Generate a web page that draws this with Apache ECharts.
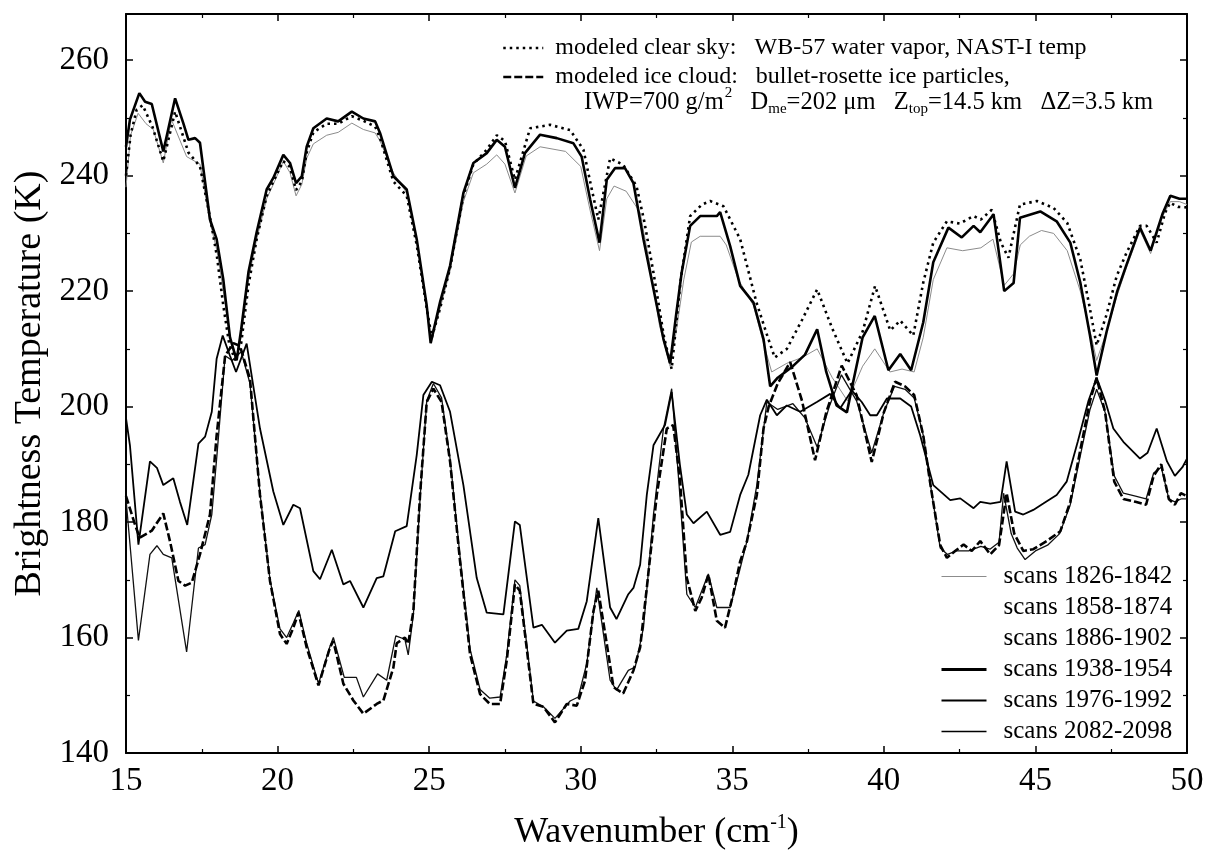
<!DOCTYPE html>
<html><head><meta charset="utf-8">
<script src="https://cdn.jsdelivr.net/npm/echarts@6/dist/echarts.min.js"></script>
<style>html,body{margin:0;padding:0;background:#fff}#c{width:1209px;height:856px}</style>
</head><body><div id="c"></div>
<script>
// ---- data: [wavenumber (cm^-1), brightness temperature (K)] ----
const clearSky = [[15.0,240],[15.15,247],[15.35,251.4],[15.55,252.2],[15.87,248.5],[16.23,242.5],[16.62,251.1],[17.06,244],[17.44,241.6],[17.8,232],[18.0,226],[18.21,217.5],[18.4,211],[18.6,208],[18.8,211],[19.04,221],[19.31,229],[19.64,236.5],[19.86,239],[20.19,242.5],[20.41,241.5],[20.61,237.5],[20.8,239],[20.96,244],[21.18,247.5],[21.62,249],[22.0,249],[22.45,250.3],[22.83,249.5],[23.22,248.5],[23.38,246.5],[23.82,239],[24.26,236.5],[24.59,228],[24.92,217],[25.09,212],[25.36,217],[25.69,224],[26.13,236.5],[26.46,242],[26.9,244.5],[27.23,247],[27.5,246],[27.83,239.3],[28.33,248.2],[28.99,248.8],[29.65,247.9],[30.09,244.5],[30.35,238],[30.58,232.4],[30.97,243],[31.4,241.9],[31.84,238.2],[32.1,232],[32.4,223.2],[32.75,212],[33.0,206.5],[33.3,222],[33.61,233],[34.0,235],[34.27,235.6],[34.71,234.7],[35.26,229],[35.8,218],[36.14,212.5],[36.4,208.5],[36.8,210],[37.3,215],[37.8,220.3],[38.3,213.5],[38.8,207.5],[39.3,213],[39.71,220.9],[40.21,213.2],[40.54,214.9],[40.97,212.3],[41.3,221.5],[41.63,228.4],[42.08,232.1],[42.5,231.7],[42.96,233],[43.2,232.4],[43.56,234.1],[43.86,228.4],[44.11,225.8],[44.49,235],[45.05,235.6],[45.6,234.4],[46.05,231.8],[46.48,225.5],[46.8,216.9],[47.02,210.6],[47.35,216],[47.68,222.6],[48.01,226.7],[48.45,231.3],[48.67,231.3],[49.0,228.4],[49.28,233.6],[49.44,235.3],[49.7,234.6],[50,234.5]];

const iceCloud = [[15.0,184.5],[15.3,179.5],[15.45,177.3],[15.85,178.5],[16.23,181.5],[16.45,176.7],[16.73,169.8],[16.95,169],[17.17,169.5],[17.44,174.4],[17.77,181.3],[17.99,195],[18.27,208.8],[18.54,211],[18.76,210.5],[19.09,204.8],[19.42,184.7],[19.75,169.8],[20.08,160.6],[20.3,158.9],[20.52,161.7],[20.69,164.3],[20.96,158.3],[21.35,151.7],[21.73,158.3],[21.84,159.4],[22.17,152],[22.5,149.1],[22.83,146.8],[23.27,148.5],[23.49,149.1],[23.82,154.8],[23.93,159],[24.2,160],[24.31,158.9],[24.48,164.6],[24.7,184.7],[24.92,200.8],[25.14,203.1],[25.41,200.8],[25.69,190.5],[26.02,173.2],[26.35,157.1],[26.68,150.2],[27.0,148.5],[27.34,148.5],[27.56,156],[27.83,169.2],[27.99,168.1],[28.44,148.5],[28.77,148],[29.15,145.3],[29.54,148.5],[29.87,148.2],[30.14,152.5],[30.42,164.6],[30.58,168.1],[30.86,158.9],[31.08,151.4],[31.4,150.3],[31.74,154.3],[31.96,158.3],[32.18,168.6],[32.51,184.7],[32.84,196.2],[33.05,196.8],[33.27,187.6],[33.5,170.3],[33.78,164.6],[33.99,166.9],[34.21,170.9],[34.49,162.9],[34.76,161.7],[35.03,167.5],[35.26,173.2],[35.48,176.6],[35.81,184.7],[36.03,196.2],[36.2,200],[36.5,204],[36.91,207.7],[37.3,201],[37.73,190.7],[38.1,199],[38.61,207.1],[39.1,202],[39.6,190.4],[40.0,199],[40.37,204.3],[40.7,203.5],[41.0,202],[41.3,195],[41.55,186],[41.86,176],[42.08,173.8],[42.35,175],[42.63,176.1],[42.9,175],[43.18,176.7],[43.51,174.4],[43.8,176],[44.05,185],[44.3,178],[44.6,175],[44.93,175.3],[45.37,176.7],[45.82,178.4],[46.15,183.5],[46.5,193],[46.8,201],[47.02,205],[47.3,199],[47.6,187],[47.9,184],[48.3,183.5],[48.65,183],[48.9,188],[49.15,190],[49.4,184],[49.6,183],[49.8,185],[50,184.5]];

const scans1826 = [[15.0,238],[15.15,247],[15.4,250.8],[15.66,249],[15.9,248],[16.23,242.2],[16.5,249.7],[17.0,243.3],[17.2,242.7],[17.44,242],[17.77,232],[18.0,227],[18.21,220],[18.43,212],[18.65,208.5],[18.8,212],[19.04,222],[19.31,229],[19.64,236],[19.86,238.5],[20.19,242.5],[20.41,240.5],[20.61,236.5],[20.8,238.5],[20.96,243],[21.18,245.5],[21.62,247],[22.0,247.5],[22.45,249.1],[22.83,248],[23.22,247.4],[23.38,246],[23.82,240.5],[24.26,237],[24.59,229],[24.92,217],[25.05,211],[25.36,217],[25.69,223.5],[26.13,235.5],[26.46,240.5],[26.9,242],[27.23,243.6],[27.5,242],[27.83,237],[28.2,243.4],[28.66,245],[29.5,244.2],[30.0,241.6],[30.31,234],[30.62,227],[30.86,236],[31.1,238.2],[31.5,237.3],[31.96,233.6],[32.3,224],[32.6,214],[32.95,207],[33.15,213],[33.4,222],[33.65,228.5],[33.94,229.5],[34.6,229.5],[34.8,228],[35.2,222],[35.7,217.5],[36.03,211],[36.3,206],[36.8,207.5],[37.3,208.5],[37.8,210],[38.3,205],[38.8,201],[39.3,207],[39.7,210],[40.2,206],[40.6,206.5],[41.0,206],[41.3,212],[41.63,222],[42.08,227.5],[42.6,227],[43.2,227.5],[43.6,229],[43.97,221],[44.28,223],[44.5,228],[44.8,229.5],[45.2,230.5],[45.6,230],[46.05,227],[46.48,220],[46.85,212],[47.02,208],[47.35,213],[47.68,219],[48.0,224],[48.45,230.5],[48.8,226.5],[49.2,233],[49.45,235.5],[49.75,235.5],[50,235]];

const scans1858 = [];   // not visible in the figure
const scans1886 = [];   // not visible in the figure

const scans1938 = [[15.0,245],[15.13,249.7],[15.44,254.3],[15.63,252.8],[15.85,252.4],[16.23,244.2],[16.62,253.4],[16.89,249.1],[17.06,246.2],[17.28,246.5],[17.44,245.7],[17.77,232.4],[17.99,229],[18.21,222],[18.43,212],[18.65,208],[18.8,213.4],[19.04,223.3],[19.31,230.2],[19.64,237.6],[19.86,239.6],[20.19,243.6],[20.41,242.2],[20.61,238.7],[20.8,239.9],[20.96,245],[21.18,248.2],[21.62,249.9],[22.0,249.4],[22.45,251.1],[22.83,249.9],[23.22,249.4],[23.38,247.4],[23.82,239.9],[24.26,237.6],[24.59,229],[24.92,217.5],[25.05,211],[25.36,218.1],[25.69,224.4],[26.13,237],[26.46,242.2],[26.9,243.9],[27.23,246.2],[27.5,245],[27.83,237.9],[28.16,243.9],[28.66,247.1],[29.21,246.5],[29.76,245.6],[30.03,243.3],[30.31,235.9],[30.62,228.4],[30.86,239.3],[31.13,241.3],[31.46,241.3],[31.74,238.7],[32.07,229],[32.51,217.5],[32.73,211.7],[32.95,207.5],[33.15,216],[33.33,223.2],[33.61,231.3],[33.94,233],[34.49,233],[34.6,233.7],[34.93,227.8],[35.26,220.9],[35.7,218],[36.03,211.7],[36.25,203.5],[36.5,205],[37.0,207],[37.4,209],[37.8,213.4],[38.1,206],[38.44,200.2],[38.78,199],[38.94,203.1],[39.3,212],[39.7,215.7],[40.15,206.3],[40.54,209.1],[40.9,206.3],[41.3,214.6],[41.63,225],[42.13,231],[42.57,229.3],[42.96,231.3],[43.18,230.2],[43.62,233.3],[43.97,220],[44.28,221.4],[44.49,232.7],[45.16,233.8],[45.7,232.1],[46.15,228.4],[46.48,221.5],[46.8,212.3],[47.02,205.4],[47.35,213],[47.7,220],[48.0,224.5],[48.45,231],[48.8,227],[49.2,233.5],[49.45,236.5],[49.75,236],[50,236]];

const scans1976 = [[15.0,198],[15.13,193.3],[15.41,176.1],[15.79,190.5],[16.02,189.4],[16.23,186.4],[16.56,187.6],[16.78,183.5],[17.02,179.5],[17.39,193.6],[17.61,194.8],[17.83,199.1],[17.99,208.3],[18.19,212.3],[18.43,208.8],[18.63,206],[18.98,210.9],[19.42,196.2],[19.86,185.3],[20.19,179.5],[20.52,183],[20.74,182.4],[21.18,171.5],[21.4,170.1],[21.79,175.2],[22.17,169.2],[22.39,169.8],[22.83,165.2],[23.27,170.3],[23.49,170.6],[23.88,178.4],[24.26,179.3],[24.59,191.6],[24.81,202],[25.09,204.3],[25.36,203.7],[25.69,199.1],[26.13,186.4],[26.57,170.3],[26.9,164.3],[27.45,164],[27.83,180.1],[27.99,179.5],[28.44,161.7],[28.72,162.2],[29.15,159.1],[29.54,161.2],[29.92,161.5],[30.2,166.3],[30.58,180.7],[30.97,165.2],[31.18,163.2],[31.57,167.5],[31.74,168.6],[31.96,172.6],[32.18,184.7],[32.4,193.3],[32.78,196.8],[33.0,202.5],[33.27,190],[33.5,181.3],[33.72,179.8],[34.16,181.8],[34.6,177.8],[34.93,178.3],[35.26,184.7],[35.53,188.2],[35.92,198.5],[36.14,201.2],[36.47,198.5],[36.8,200.2],[37.24,199.1],[37.79,200.8],[38.23,202.2],[38.56,199.7],[38.94,202.8],[39.27,200.8],[39.55,198.5],[39.77,198.5],[40.1,201.4],[40.54,201.4],[40.9,200],[41.2,195],[41.63,186.4],[42.19,183.8],[42.52,184.1],[42.96,182.4],[43.18,183.5],[43.51,183.2],[43.85,183.5],[44.05,190.5],[44.33,181.8],[44.6,181.3],[44.93,182.1],[45.26,183.2],[45.7,184.7],[46.03,187],[46.4,194],[46.75,201],[47.02,205],[47.3,201],[47.57,196.2],[47.9,193.9],[48.45,191],[48.7,192],[49.0,196.2],[49.34,190.5],[49.6,188],[49.85,189.5],[50,191]];

const scans2082 = [[15.0,184],[15.41,159.5],[15.79,174.4],[16.02,175.9],[16.23,174.4],[16.51,173.8],[17.0,157.5],[17.39,175.5],[17.61,176.1],[17.83,181.3],[18.0,191.6],[18.27,208.8],[18.5,208],[18.8,209.5],[19.09,204],[19.42,185],[19.75,170],[20.08,161.5],[20.3,160],[20.52,162.5],[20.7,164.7],[20.96,159],[21.35,152],[21.73,158.5],[21.84,160],[22.2,153.1],[22.6,153.1],[22.83,149.7],[23.3,153.7],[23.6,152.6],[23.9,160.3],[24.2,159.7],[24.31,157],[24.48,164],[24.7,184],[24.92,201],[25.14,204],[25.41,201.5],[25.69,191],[26.02,174],[26.35,158],[26.68,151],[27.0,149.5],[27.34,149.7],[27.56,157],[27.83,170],[27.99,169],[28.44,149],[28.77,148],[29.15,146],[29.65,149],[29.92,149.7],[30.2,155.5],[30.53,168.6],[30.97,152.6],[31.18,150.9],[31.57,154.3],[31.8,154.9],[32.07,161.7],[32.4,181.3],[32.73,196.2],[33.0,203.1],[33.27,184.7],[33.5,167.5],[33.78,165.2],[34.21,171],[34.49,165.2],[34.93,165.2],[35.26,172],[35.48,176.6],[35.81,186.4],[36.14,200.8],[36.5,199.5],[37.0,200.5],[37.4,198],[37.8,193],[38.2,200],[38.6,205.5],[39.1,201],[39.6,192],[40.0,199],[40.35,203.5],[40.7,203],[41.0,201.5],[41.3,195],[41.55,186],[41.86,175.5],[42.1,174.4],[42.4,175],[42.8,175],[43.2,175.8],[43.5,175.3],[43.8,176.5],[43.95,185],[44.2,178],[44.4,175.5],[44.66,173.5],[45.0,175],[45.4,176],[45.8,178],[46.15,183],[46.5,192],[46.8,199.5],[47.02,203],[47.3,199],[47.6,188],[47.9,185],[48.3,184.5],[48.65,184],[48.9,188.5],[49.15,189.5],[49.4,184],[49.6,183.5],[49.8,184],[50,184]];

const modelNames = ['modeled clear sky', 'modeled ice cloud'];
const modelLabels = {
  'modeled clear sky': 'modeled clear sky:   WB-57 water vapor, NAST-I temp',
  'modeled ice cloud': 'modeled ice cloud:   bullet-rosette ice particles,'
};
const scanNames = ['scans 1826-1842','scans 1858-1874','scans 1886-1902','scans 1938-1954','scans 1976-1992','scans 2082-2098'];
const xTicks = {min: 15, max: 50, interval: 5};
const yTicks = {min: 140, max: 268, interval: 20};

// ---- chart ----
const FONT = '"Liberation Serif","Times New Roman",Times,serif';
const chart = echarts.init(document.getElementById('c'), null, {renderer: 'canvas'});

function axisBase(pos, showLabel) {
  return {
    type: 'value', position: pos,
    axisLine: {show: true, onZero: false, lineStyle: {color: '#000', width: 2}},
    axisTick: {show: true, inside: true, length: 7, lineStyle: {color: '#000', width: 1.5}},
    minorTick: {show: true, splitNumber: 2, length: 4, lineStyle: {color: '#000', width: 1.2}},
    splitLine: {show: false},
    axisLabel: {show: showLabel, color: '#000', fontFamily: FONT, fontSize: 33},
  };
}

const xBottom = Object.assign(axisBase('bottom', true), xTicks, {
  name: '{a|Wavenumber (cm}{s|-1}{a|)}', nameLocation: 'middle', nameGap: 48,
  nameTextStyle: {rich: {a: {fontFamily: FONT, fontSize: 36, color: '#000', padding: [14, 0, 0, 0]},
                         s: {fontFamily: FONT, fontSize: 20, color: '#000', padding: [0, 0, 6, 0]}}}
});
xBottom.axisLabel.margin = 12;
const xTop = Object.assign(axisBase('top', false), xTicks);
const yLeft = Object.assign(axisBase('left', true), yTicks, {
  name: 'Brightness Temperature (K)', nameLocation: 'middle', nameGap: 74,
  nameTextStyle: {fontFamily: FONT, fontSize: 38, color: '#000'}
});
yLeft.axisLabel.margin = 17;
yLeft.axisLabel.formatter = v => (v % 20 === 0 ? String(v) : '');
const yRight = Object.assign(axisBase('right', false), yTicks);

function lineSeries(name, data, color, width, type, z) {
  return {
    name, type: 'line', data, xAxisIndex: 0, yAxisIndex: 0,
    symbol: 'none', showSymbol: false, smooth: false, z: z,
    lineStyle: {color, width, type},
    itemStyle: {color}
  };
}

const scanLegendStyle = {
  'scans 1826-1842': {color: '#8c8c8c', width: 1},
  'scans 1858-1874': {color: '#ffffff', width: 1},
  'scans 1886-1902': {color: '#ffffff', width: 1},
  'scans 1938-1954': {color: '#000', width: 3},
  'scans 1976-1992': {color: '#000', width: 2},
  'scans 2082-2098': {color: '#000', width: 1.7}
};

const option = {
  animation: false,
  backgroundColor: '#fff',
  grid: {left: 126, right: 22, top: 14, bottom: 100, containLabel: false},
  xAxis: [xBottom, xTop],
  yAxis: [yLeft, yRight],
  legend: [
    {
      data: modelNames.map(n => ({name: n, lineStyle: {width: 2.5}})),
      orient: 'vertical', left: 497, top: 31,
      itemWidth: 40, itemHeight: 10, itemGap: 5, selectedMode: false,
      itemStyle: {opacity: 0},
      formatter: n => modelLabels[n],
      textStyle: {fontFamily: FONT, fontSize: 24, color: '#000', lineHeight: 24, padding: [0, 0, 0, 7]}
    },
    {
      data: scanNames.map(n => ({name: n, lineStyle: scanLegendStyle[n]})),
      orient: 'vertical', left: 935, top: 559,
      itemWidth: 45, itemHeight: 10, itemGap: 6, selectedMode: false,
      itemStyle: {opacity: 0},
      textStyle: {fontFamily: FONT, fontSize: 25, color: '#000', lineHeight: 25, padding: [0, 0, 0, 12]}
    }
  ],
  graphic: [{
    type: 'text', left: 584, top: 86, silent: true,
    style: {
      text: '{n|IWP=700 g/m}{sup|2}{n|   D}{sub|me}{n|=202 μm   Z}{sub|top}{n|=14.5 km   ΔZ=3.5 km}',
      fill: '#000', fontFamily: FONT, fontSize: 24,
      rich: {
        n: {fontFamily: FONT, fontSize: 24.5, fill: '#000', lineHeight: 30},
        sup: {fontFamily: FONT, fontSize: 15, fill: '#000', padding: [0, 0, 18, 1]},
        sub: {fontFamily: FONT, fontSize: 15, fill: '#000', padding: [14, 0, 0, 0]}
      }
    }
  }],
  series: [
    lineSeries('scans 1858-1874', scans1858, '#ffffff', 1, 'solid', 1),
    lineSeries('scans 1886-1902', scans1886, '#ffffff', 1, 'solid', 1),
    lineSeries('scans 1826-1842', scans1826, '#8c8c8c', 1, 'solid', 2),
    lineSeries('scans 2082-2098', scans2082, '#111', 1.3, 'solid', 3),
    lineSeries('scans 1976-1992', scans1976, '#000', 1.8, 'solid', 3),
    lineSeries('scans 1938-1954', scans1938, '#000', 2.6, 'solid', 3),
    lineSeries('modeled clear sky', clearSky, '#000', 2.6, [2.5, 4], 4),
    lineSeries('modeled ice cloud', iceCloud, '#000', 2.6, [8, 3], 4)
  ]
};
chart.setOption(option);
</script></body></html>
